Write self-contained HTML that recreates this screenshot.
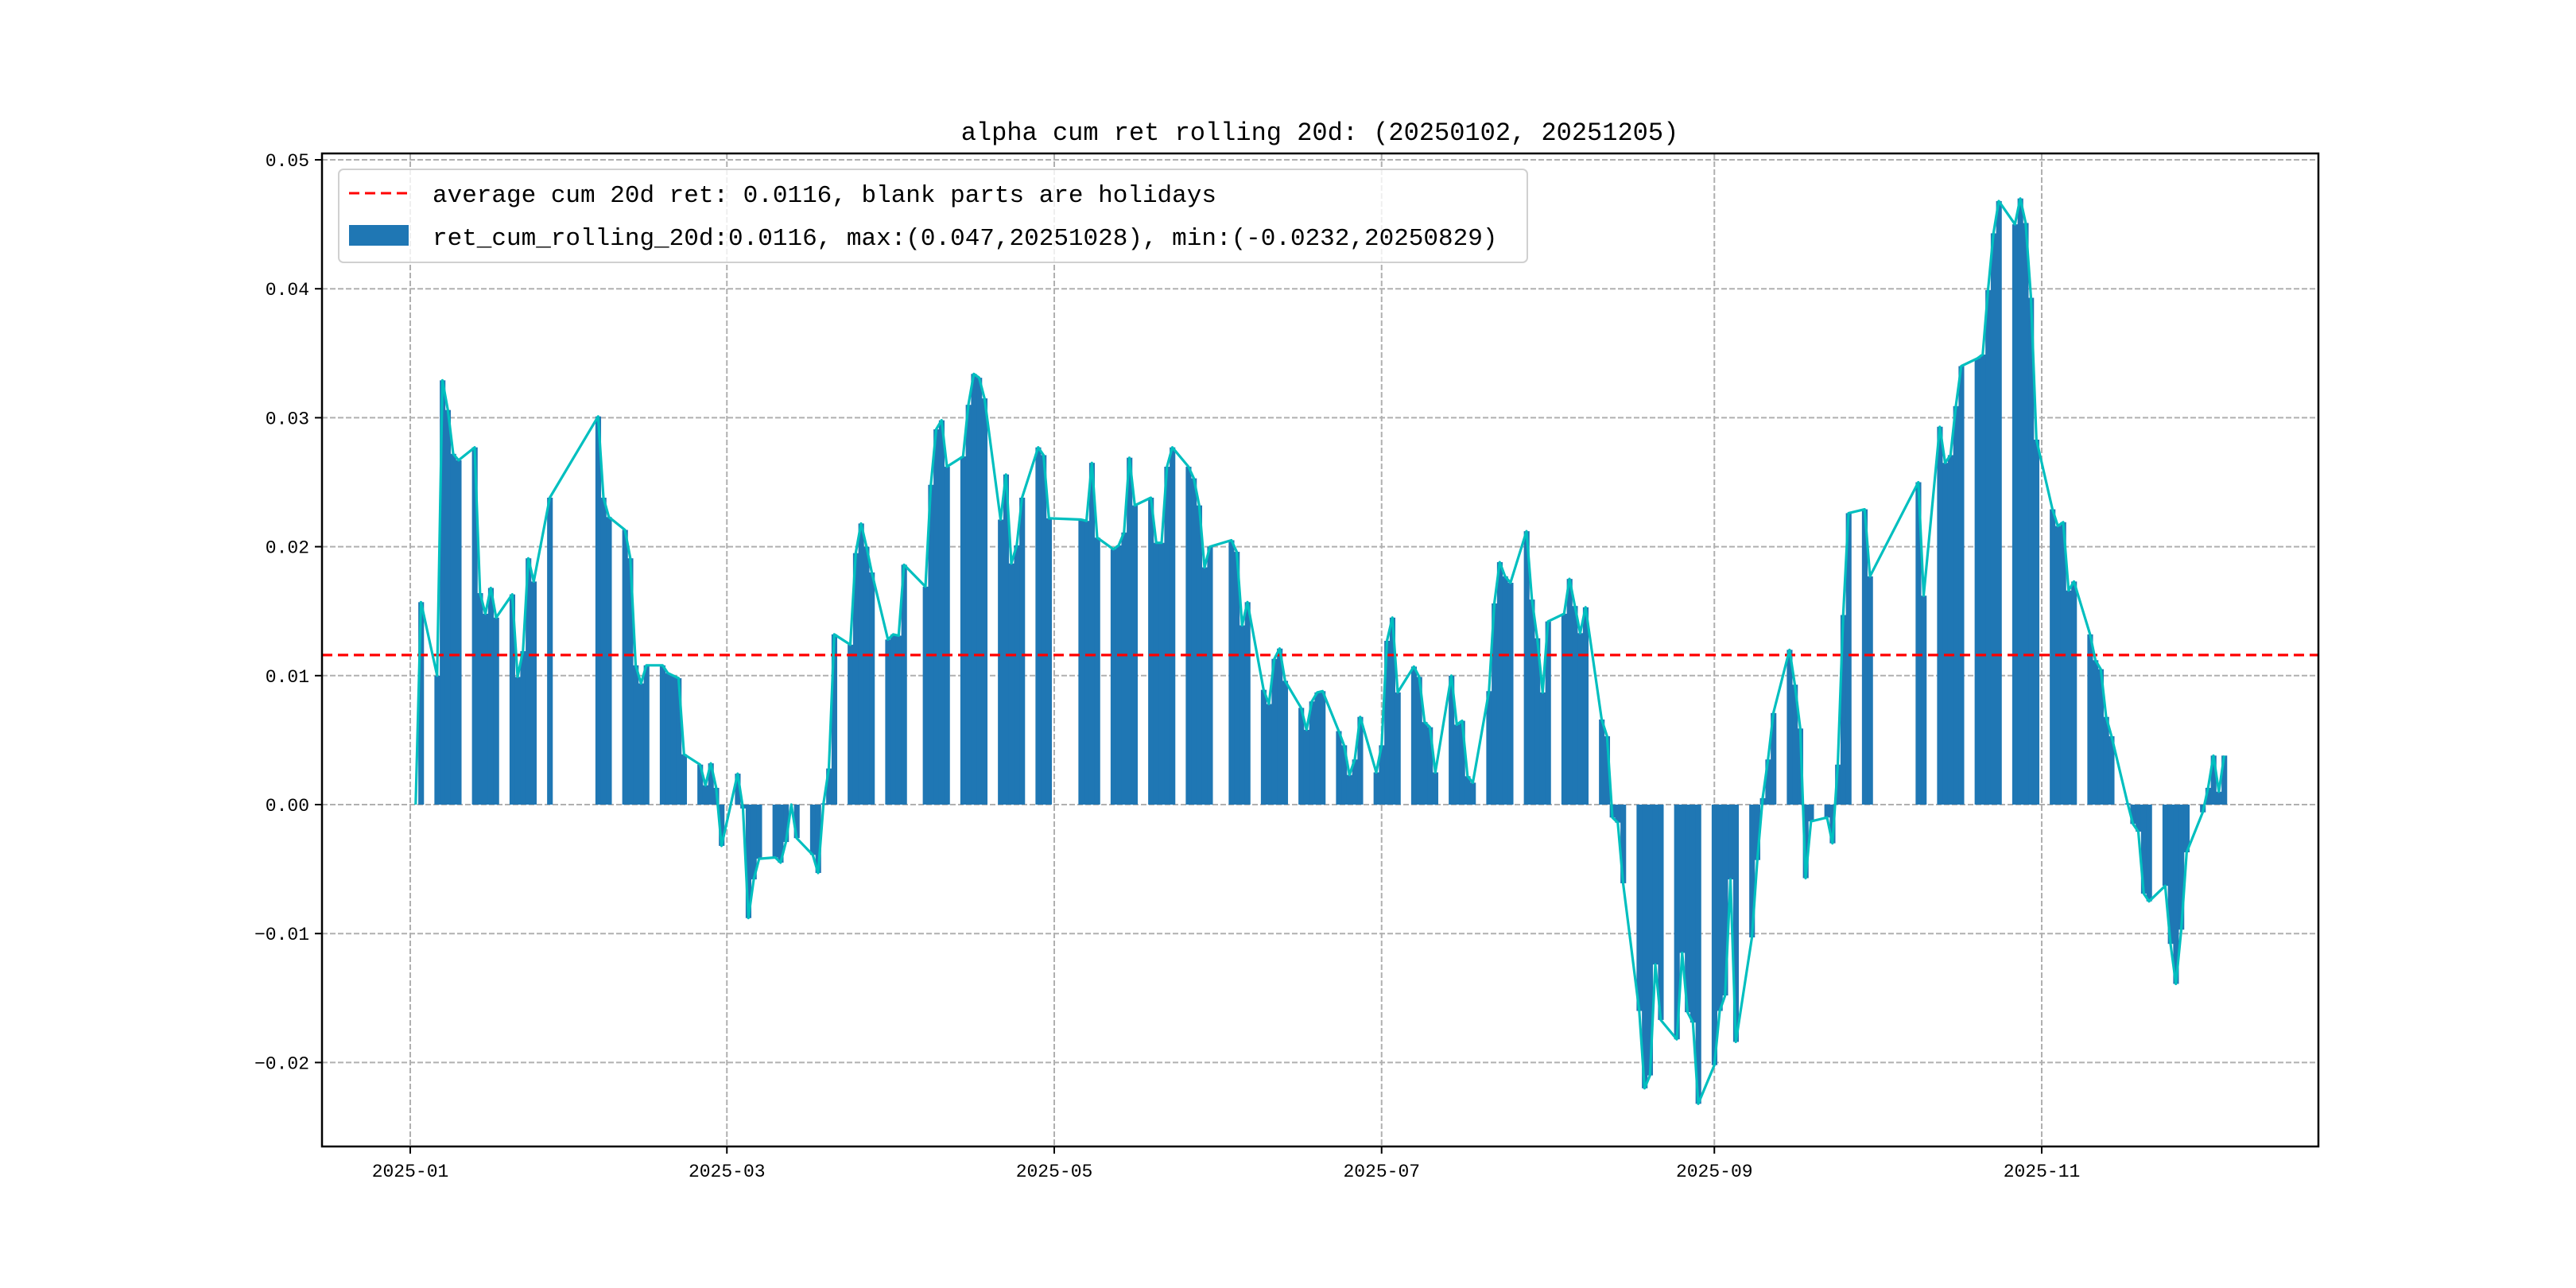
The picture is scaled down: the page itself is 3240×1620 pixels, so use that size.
<!DOCTYPE html>
<html><head><meta charset="utf-8"><style>
html,body{margin:0;padding:0;background:#fff;}
svg{display:block;font-family:"Liberation Mono","WenQuanYi Zen Hei",monospace;}
</style></head><body>
<svg id="chart" width="3240" height="1620" viewBox="0 0 3240 1620" xmlns="http://www.w3.org/2000/svg">
<rect x="0" y="0" width="3240" height="1620" fill="#fff"/>
<g id="grid"></g>
<g id="bars"></g>
<g id="avgline"></g>
<g id="series"></g>
<rect x="405" y="193" width="2511" height="1249" fill="none" stroke="#000" stroke-width="2.5"/>
<g id="ticks"></g>
<text x="1660" y="176" font-size="32" text-anchor="middle">alpha cum ret rolling 20d: (20250102, 20251205)</text>
<g>
<rect x="426" y="213" width="1495" height="117" rx="6" fill="#fff" fill-opacity="0.8" stroke="#d0d0d0" stroke-width="2"/>
<line x1="439" y1="243" x2="514" y2="243" stroke="#ff0000" stroke-width="3" stroke-dasharray="13,7"/>
<text x="544" y="254" font-size="31">average cum 20d ret: 0.0116, blank parts are holidays</text>
<rect x="439" y="283" width="75" height="26" fill="#1f77b4"/>
<text x="544" y="308" font-size="31">ret_cum_rolling_20d:0.0116, max:(0.047,20251028), min:(-0.0232,20250829)</text>
</g>
</svg>
<script>
const dates = ["2025-01-02","2025-01-03","2025-01-06","2025-01-07","2025-01-08","2025-01-09","2025-01-10","2025-01-13","2025-01-14","2025-01-15","2025-01-16","2025-01-17","2025-01-20","2025-01-21","2025-01-22","2025-01-23","2025-01-24","2025-01-27",
"2025-02-05","2025-02-06","2025-02-07","2025-02-10","2025-02-11","2025-02-12","2025-02-13","2025-02-14","2025-02-17","2025-02-18","2025-02-19","2025-02-20","2025-02-21","2025-02-24","2025-02-25","2025-02-26","2025-02-27","2025-02-28",
"2025-03-03","2025-03-04","2025-03-05","2025-03-06","2025-03-07","2025-03-10","2025-03-11","2025-03-12","2025-03-13","2025-03-14","2025-03-17","2025-03-18","2025-03-19","2025-03-20","2025-03-21","2025-03-24","2025-03-25","2025-03-26","2025-03-27","2025-03-28","2025-03-31",
"2025-04-01","2025-04-02","2025-04-03","2025-04-07","2025-04-08","2025-04-09","2025-04-10","2025-04-11","2025-04-14","2025-04-15","2025-04-16","2025-04-17","2025-04-18","2025-04-21","2025-04-22","2025-04-23","2025-04-24","2025-04-25","2025-04-28","2025-04-29","2025-04-30",
"2025-05-06","2025-05-07","2025-05-08","2025-05-09","2025-05-12","2025-05-13","2025-05-14","2025-05-15","2025-05-16","2025-05-19","2025-05-20","2025-05-21","2025-05-22","2025-05-23","2025-05-26","2025-05-27","2025-05-28","2025-05-29","2025-05-30",
"2025-06-03","2025-06-04","2025-06-05","2025-06-06","2025-06-09","2025-06-10","2025-06-11","2025-06-12","2025-06-13","2025-06-16","2025-06-17","2025-06-18","2025-06-19","2025-06-20","2025-06-23","2025-06-24","2025-06-25","2025-06-26","2025-06-27","2025-06-30",
"2025-07-01","2025-07-02","2025-07-03","2025-07-04","2025-07-07","2025-07-08","2025-07-09","2025-07-10","2025-07-11","2025-07-14","2025-07-15","2025-07-16","2025-07-17","2025-07-18","2025-07-21","2025-07-22","2025-07-23","2025-07-24","2025-07-25","2025-07-28","2025-07-29","2025-07-30","2025-07-31",
"2025-08-01","2025-08-04","2025-08-05","2025-08-06","2025-08-07","2025-08-08","2025-08-11","2025-08-12","2025-08-13","2025-08-14","2025-08-15","2025-08-18","2025-08-19","2025-08-20","2025-08-21","2025-08-22","2025-08-25","2025-08-26","2025-08-27","2025-08-28","2025-08-29",
"2025-09-01","2025-09-02","2025-09-03","2025-09-04","2025-09-05","2025-09-08","2025-09-09","2025-09-10","2025-09-11","2025-09-12","2025-09-15","2025-09-16","2025-09-17","2025-09-18","2025-09-19","2025-09-22","2025-09-23","2025-09-24","2025-09-25","2025-09-26","2025-09-29","2025-09-30",
"2025-10-09","2025-10-10","2025-10-13","2025-10-14","2025-10-15","2025-10-16","2025-10-17","2025-10-20","2025-10-21","2025-10-22","2025-10-23","2025-10-24","2025-10-27","2025-10-28","2025-10-29","2025-10-30","2025-10-31",
"2025-11-03","2025-11-04","2025-11-05","2025-11-06","2025-11-07","2025-11-10","2025-11-11","2025-11-12","2025-11-13","2025-11-14","2025-11-17","2025-11-18","2025-11-19","2025-11-20","2025-11-21","2025-11-24","2025-11-25","2025-11-26","2025-11-27","2025-11-28",
"2025-12-01","2025-12-02","2025-12-03","2025-12-04","2025-12-05"];
const values = [0,0.0157,0.0100,0.0329,0.0306,0.0272,0.0267,0.0277,0.0164,0.0148,0.0168,0.0145,0.0163,0.0099,0.0119,0.0191,0.0173,0.0238,
0.0301,0.0238,0.0223,0.0213,0.0191,0.0108,0.0094,0.0108,0.0108,0.0102,0.0100,0.0098,0.0039,0.0031,0.0015,0.0032,0.0013,-0.0032,
0.0024,-0.0003,-0.0088,-0.0058,-0.0042,-0.0041,-0.0045,-0.0029,0.0000,-0.0026,-0.0039,-0.0053,0.0001,0.0028,0.0132,0.0124,0.0195,0.0218,0.0200,0.0180,0.0128,
0.0132,0.0131,0.0186,0.0169,0.0248,0.0291,0.0298,0.0262,0.0270,0.0310,0.0334,0.0331,0.0315,0.0221,0.0256,0.0187,0.0201,0.0238,0.0277,0.0271,0.0222,
0.0221,0.0220,0.0265,0.0207,0.0198,0.0201,0.0211,0.0269,0.0232,0.0238,0.0203,0.0203,0.0262,0.0277,0.0262,0.0253,0.0232,0.0184,0.0200,
0.0205,0.0196,0.0139,0.0157,0.0089,0.0078,0.0113,0.0121,0.0096,0.0075,0.0058,0.0080,0.0087,0.0088,0.0057,0.0046,0.0023,0.0035,0.0068,0.0025,
0.0046,0.0127,0.0145,0.0087,0.0107,0.0099,0.0064,0.0060,0.0025,0.0100,0.0062,0.0065,0.0022,0.0017,0.0088,0.0156,0.0188,0.0177,0.0172,0.0212,0.0159,0.0129,0.0087,
0.0142,0.0148,0.0175,0.0154,0.0133,0.0153,0.0066,0.0053,-0.0010,-0.0014,-0.0061,-0.0160,-0.0220,-0.0210,-0.0124,-0.0167,-0.0182,-0.0115,-0.0161,-0.0169,-0.0232,
-0.0202,-0.0160,-0.0148,-0.0058,-0.0184,-0.0103,-0.0043,0.0005,0.0035,0.0071,0.0120,0.0093,0.0059,-0.0057,-0.0013,-0.0010,-0.0030,0.0031,0.0147,0.0226,0.0229,0.0177,
0.0250,0.0162,0.0293,0.0265,0.0271,0.0309,0.0340,0.0346,0.0349,0.0399,0.0443,0.0468,0.0450,0.0470,0.0451,0.0393,0.0283,
0.0229,0.0216,0.0219,0.0166,0.0173,0.0132,0.0112,0.0105,0.0068,0.0053,0.0001,-0.0015,-0.0021,-0.0069,-0.0075,-0.0063,-0.0108,-0.0139,-0.0097,-0.0037,
-0.0006,0.0013,0.0038,0.0010,0.0038];
const avgValue = [0.0116];
const yTicks = [-0.02,-0.01,0.00,0.01,0.02,0.03,0.04,0.05];
const yTickLabels = ["\u22120.02","\u22120.01","0.00","0.01","0.02","0.03","0.04","0.05"];
const xTicks = ["2025-01-01","2025-03-01","2025-05-01","2025-07-01","2025-09-01","2025-11-01"];
const xTickLabels = ["2025-01","2025-03","2025-05","2025-07","2025-09","2025-11"];

const NS = "http://www.w3.org/2000/svg";
const L=405, R=2916, T=193, B=1442;
const t0 = Date.UTC(2025,0,1);
const dayPx = 6.75;
function dayOf(s){const p=s.split("-");return (Date.UTC(+p[0],+p[1]-1,+p[2])-t0)/86400000;}
function xScale(s){return 516 + dayOf(s)*dayPx;}
function yScale(v){return 1012 - v*16220;}
function mk(tag, attrs, parent){const e=document.createElementNS(NS,tag);for(const k in attrs)e.setAttribute(k,attrs[k]);parent.appendChild(e);return e;}

const grid=document.getElementById("grid"), ticks=document.getElementById("ticks");
yTicks.forEach((v,i)=>{
  const y=yScale(v);
  const g=mk("line",{x1:L,x2:R,y1:y,y2:y,stroke:"#b0b0b0","stroke-width":2,"stroke-dasharray":"7,3"},grid);
  
  
  const tk=mk("line",{x1:L-9,x2:L,y1:y,y2:y,stroke:"#000","stroke-width":2},ticks);
  
  
  const tx=mk("text",{x:L-16,y:y+8,"font-size":23,"text-anchor":"end"},ticks);
  tx.textContent=yTickLabels[i];
  
  
});
xTicks.forEach((d,i)=>{
  const x=xScale(d);
  const g=mk("line",{x1:x,x2:x,y1:T,y2:B,stroke:"#b0b0b0","stroke-width":2,"stroke-dasharray":"7,3"},grid);
  
  
  const tk=mk("line",{x1:x,x2:x,y1:B,y2:B+9,stroke:"#000","stroke-width":2},ticks);
  
  
  const tx=mk("text",{x:x,y:B+38,"font-size":23,"text-anchor":"middle"},ticks);
  tx.textContent=xTickLabels[i];
  
  
});

const bars=document.getElementById("bars");
const y0=yScale(0);
dates.forEach((d,i)=>{
  const x=xScale(d), y=yScale(values[i]);
  const r=mk("rect",{x:x-dayPx/2,y:Math.min(y,y0),width:dayPx+0.4,height:Math.abs(y-y0),fill:"#1f77b4"},bars);
  
  
});

const ya=yScale(avgValue[0]);
const al=mk("line",{x1:L,x2:R,y1:ya,y2:ya,stroke:"#ff0000","stroke-width":3.2,"stroke-dasharray":"13,7"},document.getElementById("avgline"));



const pts=dates.map((d,i)=>xScale(d).toFixed(1)+","+yScale(values[i]).toFixed(1)).join(" ");
const pl=mk("polyline",{points:pts,fill:"none",stroke:"#00bfbf","stroke-width":3.2,"stroke-linejoin":"round"},document.getElementById("series"));


</script>
</body></html>
